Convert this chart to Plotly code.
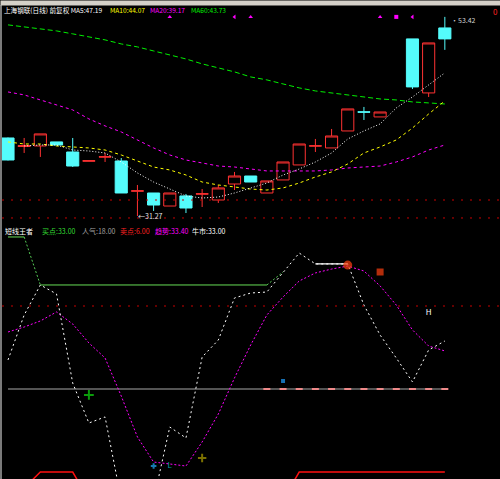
import plotly.graph_objects as go

W, H = 500, 479
RED = "#ff3232"
CYAN = "#54fcfc"
FONT = "Noto Sans CJK SC"

# ---- price panel ----
# daily bars (day 24 shows no bar)
bar_day = [0, 1, 2, 3, 4, 5, 6, 7, 8, 9, 10, 11, 12, 13, 14, 15, 16, 17, 18, 19, 20, 21, 22, 23, 25, 26, 27]
bar_open = [39.95, 39.00, 39.06, 39.51, 38.39, 37.36, 37.82, 37.39, 34.03, 33.83, 32.38, 33.50, 33.70, 33.05,
            34.83, 35.72, 33.83, 35.28, 36.95, 39.04, 38.84, 40.73, 42.86, 42.29, 50.97, 44.96, 52.19]
bar_high = [40.00, 39.95, 40.40, 39.51, 39.95, 37.42, 38.28, 37.72, 34.72, 33.83, 33.83, 33.72, 34.27, 34.72,
            36.17, 35.72, 35.17, 37.28, 39.28, 39.84, 40.95, 43.18, 43.40, 42.84, 50.97, 50.52, 53.42]
bar_low = [37.45, 38.28, 37.84, 39.17, 36.72, 37.36, 37.28, 33.83, 31.27, 31.83, 32.38, 31.60, 32.27, 32.72,
           34.16, 35.05, 33.83, 35.28, 36.95, 38.39, 38.84, 40.73, 41.95, 42.29, 45.40, 44.51, 49.75]
bar_close = [37.50, 39.10, 40.40, 39.17, 36.83, 37.42, 37.86, 33.83, 34.07, 32.49, 33.83, 32.16, 33.74, 34.39,
             35.72, 35.05, 35.17, 37.28, 39.28, 39.08, 40.17, 43.18, 42.82, 42.84, 45.63, 50.52, 50.97]

day = list(range(28))
ma5 = [None, 39.06, 39.17, 39.17, 38.61, 38.50, 38.28, 37.28, 36.06, 35.05, 34.27, 33.50, 33.27, 33.38,
       33.83, 34.39, 34.94, 35.83, 36.50, 37.28, 38.28, 39.84, 40.73, 41.51, 43.29, 44.51, 45.85, 47.19]
ma10 = [39.51, 39.28, 39.28, 39.06, 38.95, 38.84, 38.61, 38.06, 37.39, 36.72, 36.39, 35.83, 35.05, 34.72,
        34.50, 34.27, 34.16, 34.39, 34.94, 35.61, 36.17, 37.06, 38.28, 38.95, 39.73, 41.06, 42.62, 44.07]
ma20 = [45.07, 44.74, 44.18, 43.62, 43.07, 42.07, 41.29, 40.62, 39.73, 38.84, 38.06, 37.50, 37.17, 36.83,
        36.72, 36.50, 36.28, 36.28, 36.28, 36.28, 36.39, 36.61, 36.72, 36.83, 37.28, 37.84, 38.61, 39.17]
ma60 = [52.53, 52.30, 52.08, 51.86, 51.53, 51.19, 50.86, 50.41, 50.08, 49.63, 49.19, 48.74, 48.19, 47.74,
        47.30, 46.74, 46.41, 45.96, 45.52, 45.18, 44.96, 44.74, 44.51, 44.29, 44.18, 43.96, 43.85, 43.73]
red_levels = [33.05, 31.05]

top_mark_day = [10, 14, 15, 23, 24, 25]
top_mark_sym = ["triangle-up", "triangle-left", "triangle-up", "triangle-up", "square", "triangle-left"]
top_mark_val = 53.42

# ---- indicator panel ----
k_line = [41.0, 73.5, 95.2, 88.7, 24.3, -4.6, -0.2, -60.2, -78.3, -60.2, -7.5, -15.4, 43.1, 55.4,
          85.8, 89.4, 90.1, 104.6, 118.3, 110.4, 110.4, 110.4, 80.7, 59.0, 42.4, 25.1, 48.2, 54.7]
d_line = [61.2, 64.8, 69.2, 75.7, 67.0, 53.3, 42.4, 14.9, -14.7, -32.8, -34.2, -35.7, -18.3, 1.9,
          28.0, 51.8, 73.5, 86.5, 98.1, 103.9, 106.7, 108.9, 105.3, 94.5, 80.7, 62.7, 51.1, 47.5]
green_line = [129.9, 129.9, 95.2, 95.2, 95.2, 95.2, 95.2, 95.2, 95.2, 95.2, 95.2, 95.2, 95.2, 95.2,
              95.2, 95.2, 95.2, 104.6]
red_line = [-60.2, -51.6, -40.0, -40.0, -40.0, -60.2, -60.2, -60.2, -60.2, -60.2, -60.2, -60.2, -60.2, -60.2,
            -60.2, -60.2, -60.2, -60.2, -40.0, -40.0, -40.0, -40.0, -40.0, -40.0, -40.0, -40.0, -40.0, -40.0]
grey_level = 20
red_level2 = 80
pink_days = list(range(16, 28))

fig = go.Figure()

fig.add_trace(go.Candlestick(
    x=bar_day, open=bar_open, high=bar_high, low=bar_low, close=bar_close,
    increasing=dict(line=dict(color=RED, width=1), fillcolor="#000000"),
    decreasing=dict(line=dict(color=CYAN, width=1), fillcolor=CYAN),
    whiskerwidth=0, hoverinfo="skip", showlegend=False))

for vals, col, dash in [(ma60, "#00f000", "5px,3px"), (ma20, "#ff00ff", "3px,3px"),
                        (ma10, "#ffff00", "3px,3px"), (ma5, "#ffffff", "1px,2px")]:
    fig.add_trace(go.Scatter(x=day, y=vals, mode="lines",
                             line=dict(color=col, width=1, dash=dash), hoverinfo="skip"))

fig.add_trace(go.Scatter(
    x=top_mark_day, y=[top_mark_val] * len(top_mark_day), mode="markers",
    marker=dict(symbol=top_mark_sym, size=4, color="#ff00ff"), hoverinfo="skip"))

# indicator
ya = dict(xaxis="x2", yaxis="y2", hoverinfo="skip")
fig.add_trace(go.Scatter(x=day, y=red_line, mode="lines", line=dict(color="#ff1010", width=1.5), **ya))
fig.add_trace(go.Scatter(x=day, y=[grey_level] * len(day), mode="lines",
                         line=dict(color="#a8a8a8", width=1), **ya))
fig.add_trace(go.Scatter(x=pink_days, y=[grey_level] * len(pink_days), mode="markers",
                         marker=dict(symbol="line-ew", size=5, line=dict(color="#f08a8a", width=2)), **ya))
g_solid_x = [0, 1, None] + list(range(2, 17))
g_solid_y = green_line[0:2] + [None] + green_line[2:17]
fig.add_trace(go.Scatter(x=g_solid_x, y=g_solid_y, mode="lines",
                         line=dict(color="#66dd55", width=1), **ya))
fig.add_trace(go.Scatter(x=[1, 2, None, 16, 17], y=green_line[1:3] + [None] + green_line[16:18], mode="lines",
                         line=dict(color="#55cc55", width=1, dash="2px,2px"), **ya))
fig.add_trace(go.Scatter(x=day, y=d_line, mode="lines",
                         line=dict(color="#ff00ff", width=1, dash="2px,2px"), **ya))
fig.add_trace(go.Scatter(x=day, y=k_line, mode="lines",
                         line=dict(color="#ffffff", width=1, dash="2px,3px"), **ya))
fig.add_trace(go.Scatter(x=day[19:22], y=k_line[19:22], mode="lines",
                         line=dict(color="#ffffff", width=1.2), **ya))

# signal glyphs
sig_day = [5, 9, 12, 17, 21, 23]
sig_val = [15.7, -35.7, -29.9, 25.8, 109.6, 104.6]
sig_sym = ["cross-thin", "cross-thin", "cross-thin", "square", "circle", "square"]
sig_col = ["#10e010", "#20b0ff", "#b0a000", "#20a0ff", "#ff4010", "#ff4010"]
sig_size = [7, 4, 6, 2, 7, 5]
fig.add_trace(go.Scatter(
    x=sig_day, y=sig_val, mode="markers",
    marker=dict(symbol=sig_sym, size=sig_size, color=sig_col, line=dict(color=sig_col, width=2)), **ya))
fig.add_trace(go.Scatter(x=[10, 26], y=[-35.7, 74.9], mode="text", text=["L", "H"],
                         textfont=dict(family=FONT, size=8, color=["#00a0a0", "#ffffff"]), **ya))

shapes = []
for lvl in red_levels:
    shapes.append(dict(type="line", xref="paper", x0=0.004, x1=1, yref="y", y0=lvl, y1=lvl,
                       line=dict(color="#c80000", width=1, dash="2px,7px")))
shapes.append(dict(type="line", xref="paper", x0=0.004, x1=1, yref="y2", y0=red_level2, y1=red_level2,
                   line=dict(color="#c80000", width=1, dash="2px,7px")))
shapes.append(dict(type="line", xref="paper", yref="paper", x0=1 / W, x1=1 / W, y0=0, y1=1 - 5 / H,
                   line=dict(color="#7a7a7a", width=2)))


def label(px, py, text, color, size=7):
    return dict(xref="paper", yref="paper", x=px / W, y=1 - py / H, xanchor="left", yanchor="middle",
                text=text, showarrow=False, font=dict(family=FONT, size=size, color=color))


annotations = [
    # window chrome strip along the top edge
    dict(xref="paper", yref="paper", x=0, y=1, xanchor="left", yanchor="top", text=" ", showarrow=False,
         width=W, height=4, bgcolor="#d4d0c8", borderpad=0, font=dict(size=1)),
    label(2, 10, f"上海钢联(日线) 前复权 MA5:{ma5[-1]:.2f}", "#ffffff", 6.6),
    label(108, 10, f"MA10:{ma10[-1]:.2f}", "#ffff00", 6.6),
    label(148, 10, f"MA20:{ma20[-1]:.2f}", "#ff00ff", 6.6),
    label(189, 10, f"MA60:{ma60[-1]:.2f}", "#00f000", 6.6),
    label(3, 231, "短线王者", "#ffffff"),
    label(40, 231, "买点:33.00", "#33dd33"),
    label(80, 231, "人气:18.00", "#a0a0a0"),
    label(118, 231, "卖点:6.00", "#ff2020"),
    label(153, 231, "趋势:33.40", "#ff00ff"),
    label(190, 231, "牛市:33.00", "#ffffff"),
    label(491, 11, "0", "#ff2020", 8),
    dict(x=27, y=bar_high[-1], xref="x", yref="y", xanchor="left", yanchor="middle", xshift=4, yshift=-3,
         text=f"·{bar_high[-1]:.2f}", showarrow=False, font=dict(family=FONT, size=7, color="#d0d0d0")),
    dict(x=8, y=bar_low[8], xref="x", yref="y", xanchor="left", yanchor="middle", xshift=-1,
         text=f"←{bar_low[8]:.2f}", showarrow=False, font=dict(family=FONT, size=7, color="#e0e0e0")),
]

xr = [-0.494, 30.41]
fig.update_layout(
    width=W, height=H, margin=dict(l=0, r=0, t=0, b=0),
    paper_bgcolor="#000000", plot_bgcolor="#000000", showlegend=False,
    xaxis=dict(domain=[0, 1], range=xr, visible=False, anchor="y", rangeslider=dict(visible=False)),
    yaxis=dict(domain=[1 - 224 / H, 1 - 6 / H], range=[30.38, 54.63], visible=False),
    xaxis2=dict(domain=[0, 1], range=xr, visible=False, anchor="y2"),
    yaxis2=dict(domain=[0, 1 - 225 / H], range=[-45.06, 138.56], visible=False),
    boxgap=0.25, boxgroupgap=0,
    shapes=shapes, annotations=annotations,
)

fig.write_html("out.html", config={"displayModeBar": False},
               post_script="document.body.style.margin='0';")
